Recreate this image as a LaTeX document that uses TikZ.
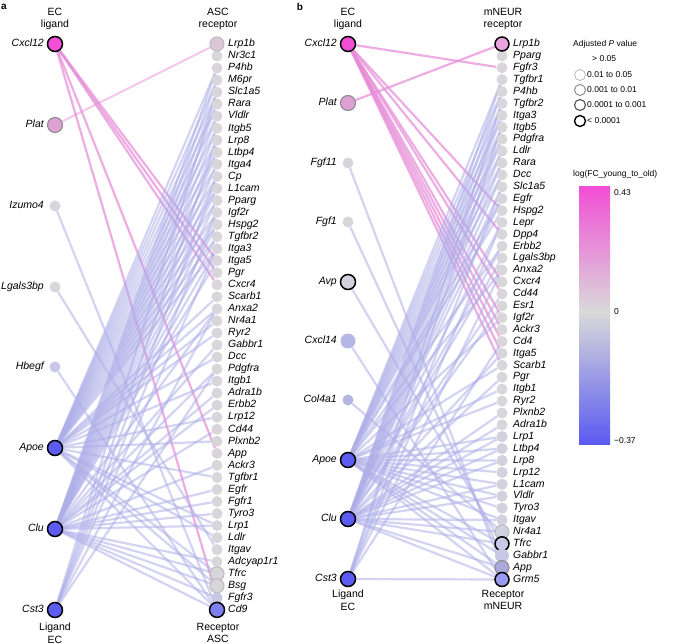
\documentclass[tikz,border=0pt]{standalone}
\usepackage{fontspec}
\setmainfont{Liberation Sans}
\usepackage{tikz}
\usetikzlibrary{shapes,positioning,calc,backgrounds}

\definecolor{cxc}{HTML}{F24FD6}
\definecolor{platc}{HTML}{DFA0D6}
\definecolor{ngrey}{HTML}{D9D6DB}
\definecolor{ngreyb}{HTML}{D2D2DF}
\definecolor{lrpa}{HTML}{DCC6D8}
\definecolor{lrpb}{HTML}{E9A3DD}
\definecolor{lav}{HTML}{C8C8E6}
\definecolor{lavd}{HTML}{B6B6E4}
\definecolor{bluec}{HTML}{5C5CF2}
\definecolor{cdnine}{HTML}{7F7FF0}
\definecolor{grmc}{HTML}{9A9AF2}
\definecolor{appc}{HTML}{A9A9DD}
\definecolor{plight}{HTML}{BDBDBD}
\definecolor{pmid}{HTML}{8C8C8C}
\definecolor{pdark}{HTML}{505050}
\definecolor{lineblue}{HTML}{AEAEE8}
\definecolor{linepink}{HTML}{E58AD6}
\definecolor{zgrey}{HTML}{D9D9D9}
\definecolor{barblue}{HTML}{5A5AF2}

\tikzstyle{gene} = [circle, inner sep=0pt, minimum size=11pt, fill=ngrey]
\tikzstyle{big} = [circle, inner sep=0pt, minimum size=15pt]
\tikzstyle{pv4} = [draw=black, line width=1.5pt]
\tikzstyle{pv3} = [draw=pdark, line width=1.1pt]
\tikzstyle{pv2} = [draw=pmid, line width=1.1pt]
\tikzstyle{pv1} = [draw=plight, line width=1.1pt]
\tikzstyle{rlab} = [anchor=west, inner sep=0pt, text height=8pt, text depth=2.5pt, font=\fontsize{10.5}{12}\selectfont\itshape]
\tikzstyle{llab} = [anchor=east, inner sep=0pt, text height=8pt, text depth=2.5pt, font=\fontsize{10.5}{12}\selectfont\itshape]
\tikzstyle{head} = [align=center, font=\fontsize{10.5}{12.5}\selectfont]
\tikzstyle{lgd} = [anchor=west, inner sep=0pt, font=\fontsize{8.5}{10}\selectfont]
\tikzstyle{bline} = [line width=2.2pt, draw=lineblue, draw opacity=0.55]
\tikzstyle{pline} = [line width=2.2pt, draw=linepink, draw opacity=0.7]

\begin{document}
\begin{tikzpicture}[x=1pt, y=-1pt]
\useasboundingbox (0,0) rectangle (685,644);

% panel a
\node[font=\bfseries\fontsize{10}{12}\selectfont] at (4,7) {a};
\node[head] (ha1) at (55,19) {EC\\ligand};
\node[head] (ha2) at (218,19) {ASC\\receptor};
\node[head] (ha3) at (55,633) {Ligand\\EC};
\node[head] (ha4) at (218,633) {Receptor\\ASC};

\node (laCxcl12) at (55,44) [big, fill=cxc, pv4] {};
\node[llab] at (44,44) {Cxcl12};
\node (laPlat) at (55,125) [big, fill=platc, pv2] {};
\node[llab] at (44,125) {Plat};
\node (laIzumo4) at (55,206) [gene] {};
\node[llab] at (44,206) {Izumo4};
\node (laLgals3bp) at (55,287) [gene] {};
\node[llab] at (44,287) {Lgals3bp};
\node (laHbegf) at (55,367) [gene, fill=lav] {};
\node[llab] at (44,367) {Hbegf};
\node (laApoe) at (55,448) [big, fill=bluec, pv4] {};
\node[llab] at (44,448) {Apoe};
\node (laClu) at (55,529) [big, fill=bluec, pv4] {};
\node[llab] at (44,529) {Clu};
\node (laCst3) at (55,610) [big, fill=bluec, pv4] {};
\node[llab] at (44,610) {Cst3};

\foreach \g [count=\i from 0] in {Lrp1b,Nr3c1,P4hb,M6pr,Slc1a5,Rara,Vldlr,Itgb5,Lrp8,Ltbp4,Itga4,Cp,L1cam,Pparg,Igf2r,Hspg2,Tgfbr2,Itga3,Itga5,Pgr,Cxcr4,Scarb1,Anxa2,Nr4a1,Ryr2,Gabbr1,Dcc,Pdgfra,Itgb1,Adra1b,Erbb2,Lrp12,Cd44,Plxnb2,App,Ackr3,Tgfbr1,Egfr,Fgfr1,Tyro3,Lrp1,Ldlr,Itgav,Adcyap1r1,Tfrc,Bsg,Fgfr3,Cd9}{
  \node[gene] (ra\g) at (217,{44+12.04*\i}) {};
  \node[rlab] at (228,{44+12.04*\i}) {\g};
}
\node[big, fill=lrpa, pv1, minimum size=14pt] at (raLrp1b) {};
\node[big, fill=ngrey, pv1, minimum size=14pt] at (raTfrc) {};
\node[big, fill=ngrey, pv1, minimum size=14pt] at (raBsg) {};
\node[gene, fill=lav] at (raFgfr3) {};
\node[big, fill=cdnine, pv4] at (raCd9) {};

\begin{scope}[on background layer]
\foreach \r in {Itga5,Pgr,Cxcr4,App,Fgfr3}
  \draw[pline] (laCxcl12) -- (ra\r);
\draw[pline, draw opacity=0.45] (laPlat) -- (raLrp1b);
\draw[bline] (laIzumo4) -- (raCd9);
\draw[bline] (laLgals3bp) -- (raItgav);
\draw[bline] (laHbegf) -- (raCd9);
\foreach \r in {P4hb,M6pr,Slc1a5,Rara,Vldlr,Itgb5,Lrp8,Ltbp4,Itga4,Cp,L1cam,Pparg,Igf2r,Hspg2,Tgfbr2,Itga3,Scarb1,Anxa2,Nr4a1,Ryr2,Dcc,Itgb1,Lrp12,Plxnb2,Tgfbr1,Lrp1,Ldlr,Tfrc,Bsg,Cd9}
  \draw[bline] (laApoe) -- (ra\r);
\foreach \r in {P4hb,M6pr,Slc1a5,Rara,Vldlr,Itgb5,Lrp8,Ltbp4,Itga4,Cp,L1cam,Pparg,Igf2r,Hspg2,Tgfbr2,Itga3,Itga5,Anxa2,Gabbr1,Pdgfra,Adra1b,Erbb2,Cd44,Ackr3,Egfr,Fgfr1,Tyro3,Lrp1,Adcyap1r1,Tfrc,Bsg,Fgfr3,Cd9}
  \draw[bline] (laClu) -- (ra\r);
\foreach \r in {Slc1a5,Lrp8,Cp,Igf2r,Itga3,Anxa2,Pdgfra}
  \draw[bline] (laCst3) -- (ra\r);
\end{scope}

% panel b
\node[font=\bfseries\fontsize{10}{12}\selectfont] at (300,7) {b};
\node[head] (hb1) at (348,19) {EC\\ligand};
\node[head] (hb2) at (503,19) {mNEUR\\receptor};
\node[head] (hb3) at (348,600) {Ligand\\EC};
\node[head] (hb4) at (503,600) {Receptor\\mNEUR};

\node (lbCxcl12) at (348,44) [big, fill=cxc, pv4] {};
\node[llab] at (337,44) {Cxcl12};
\node (lbPlat) at (348,103) [big, fill=platc, pv2] {};
\node[llab] at (337,103) {Plat};
\node (lbFgf11) at (348,163) [gene] {};
\node[llab] at (337,163) {Fgf11};
\node (lbFgf1) at (348,222) [gene] {};
\node[llab] at (337,222) {Fgf1};
\node (lbAvp) at (348,282) [big, fill=ngreyb, pv4] {};
\node[llab] at (337,282) {Avp};
\node (lbCxcl14) at (348,341) [big, fill=lavd] {};
\node[llab] at (337,341) {Cxcl14};
\node (lbCol4a1) at (348,400) [gene, fill=lavd] {};
\node[llab] at (337,400) {Col4a1};
\node (lbApoe) at (348,460) [big, fill=bluec, pv4] {};
\node[llab] at (337,460) {Apoe};
\node (lbClu) at (348,519) [big, fill=bluec, pv4] {};
\node[llab] at (337,519) {Clu};
\node (lbCst3) at (348,579) [big, fill=bluec, pv4] {};
\node[llab] at (337,579) {Cst3};

\foreach \g [count=\i from 0] in {Lrp1b,Pparg,Fgfr3,Tgfbr1,P4hb,Tgfbr2,Itga3,Itgb5,Pdgfra,Ldlr,Rara,Dcc,Slc1a5,Egfr,Hspg2,Lepr,Dpp4,Erbb2,Lgals3bp,Anxa2,Cxcr4,Cd44,Esr1,Igf2r,Ackr3,Cd4,Itga5,Scarb1,Pgr,Itgb1,Ryr2,Plxnb2,Adra1b,Lrp1,Ltbp4,Lrp8,Lrp12,L1cam,Vldlr,Tyro3,Itgav,Nr4a1,Tfrc,Gabbr1,App,Grm5}{
  \node[gene] (rb\g) at (502,{44+11.9*\i}) {};
  \node[rlab] at (513,{44+11.9*\i}) {\g};
}
\foreach \g in {Lrp1,Ltbp4,Lrp8,Lrp12,L1cam,Vldlr,Tyro3,Itgav}
  \node[gene, fill=ngreyb] at (rb\g) {};
\node[big, fill=lrpb, pv4, minimum size=14pt] at (rbLrp1b) {};
\node[big, fill=ngreyb, pv1, minimum size=14pt] at (rbNr4a1) {};
\node[big, fill=lav, pv4, minimum size=14pt] at (rbTfrc) {};
\node[big, fill=lav, minimum size=14pt] at (rbGabbr1) {};
\node[big, fill=appc, pv2, minimum size=14pt] at (rbApp) {};
\node[big, fill=grmc, pv4, minimum size=14pt] at (rbGrm5) {};

\begin{scope}[on background layer]
\foreach \r in {Fgfr3,Hspg2,Dpp4,Cxcr4,Cd44,Igf2r,Ackr3,Cd4,Itga5,Scarb1}
  \draw[pline] (lbCxcl12) -- (rb\r);
\draw[pline] (lbPlat) -- (rbLrp1b);
\draw[bline] (lbFgf11) -- (rbApp);
\draw[bline] (lbFgf1) -- (rbGabbr1);
\draw[bline] (lbAvp) -- (rbTfrc);
\draw[bline] (lbCxcl14) -- (rbGrm5);
\draw[bline] (lbCol4a1) -- (rbNr4a1);
\foreach \r in {Tgfbr1,P4hb,Tgfbr2,Itga3,Itgb5,Pdgfra,Ldlr,Rara,Dcc,Egfr,Hspg2,Erbb2,Anxa2,Igf2r,Scarb1,Itgb1,Ryr2,Lrp1,Ltbp4,Lrp8,Lrp12,L1cam,Vldlr,Tyro3,Itgav,Tfrc,Gabbr1,App,Grm5}
  \draw[bline] (lbApoe) -- (rb\r);
\foreach \r in {Tgfbr1,P4hb,Tgfbr2,Itga3,Itgb5,Pdgfra,Ldlr,Rara,Dcc,Slc1a5,Egfr,Lepr,Erbb2,Lgals3bp,Esr1,Cd44,Itga5,Pgr,Plxnb2,Adra1b,Lrp1,Ltbp4,Lrp8,L1cam,Vldlr,Itgav,Nr4a1,Tfrc,App,Grm5}
  \draw[bline] (lbClu) -- (rb\r);
\foreach \r in {Tgfbr2,Itgb5,Slc1a5,Lepr,Anxa2,Cd4,Grm5}
  \draw[bline] (lbCst3) -- (rb\r);
\end{scope}

% legend
\node[lgd] (pt) at (573,44) {Adjusted \textit{P} value};
\node[lgd] (p0) at (592,59) {> 0.05};
\node (c1) at (580,75) [circle, inner sep=0pt, minimum size=11pt, draw=plight, line width=0.9pt] {};
\node[lgd] (p1) at (587,75) {0.01 to 0.05};
\node (c2) at (580,90) [circle, inner sep=0pt, minimum size=11pt, draw=pmid, line width=1pt] {};
\node[lgd] (p2) at (587,90) {0.001 to 0.01};
\node (c3) at (580,105) [circle, inner sep=0pt, minimum size=11pt, draw=pdark, line width=1.1pt] {};
\node[lgd] (p3) at (587,105) {0.0001 to 0.001};
\node (c4) at (580,121) [circle, inner sep=0pt, minimum size=11pt, draw=black, line width=1.4pt] {};
\node[lgd] (p4) at (587,121) {< 0.0001};

\node[lgd] (ft) at (573,174) {log(FC\_young\_to\_old)};
\shade[top color=cxc, bottom color=zgrey] (579,187) rectangle (610,312);
\shade[top color=zgrey, bottom color=barblue] (579,312) rectangle (610,444);
\node[lgd] (v1) at (614,193) {0.43};
\node[lgd] (v2) at (614,312) {0};
\node[lgd] (v3) at (614,441) {−0.37};
\end{tikzpicture}
\end{document}
